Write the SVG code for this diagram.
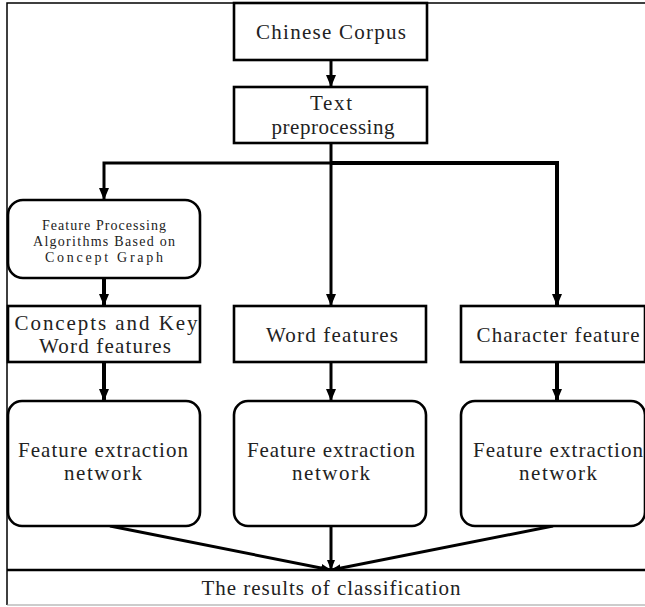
<svg xmlns="http://www.w3.org/2000/svg" width="645" height="607" viewBox="0 0 645 607">
<style>
.box{fill:#fff;stroke:#000;stroke-width:2.6}
.frame{fill:none;stroke:#000;stroke-width:1.5}
.t{font-family:"Liberation Serif","Times New Roman",serif;font-size:21px;fill:#222;text-anchor:middle}
.s{font-family:"Liberation Serif","Times New Roman",serif;font-size:14px;fill:#222;text-anchor:middle}
.ln{fill:none;stroke:#000;stroke-width:3}
.lt{fill:none;stroke:#000;stroke-width:4}
</style>
<defs>
<marker id="ah" viewBox="0 0 12 10" refX="12" refY="5" markerWidth="12" markerHeight="10" markerUnits="userSpaceOnUse" orient="auto">
<path d="M0,0 L12,5 L0,10 Z" fill="#000"/>
</marker>
<marker id="ahs" viewBox="0 0 10 8" refX="10" refY="4" markerWidth="10" markerHeight="8" markerUnits="userSpaceOnUse" orient="auto">
<path d="M0,0 L10,4 L0,8 Z" fill="#000"/>
</marker>
</defs>
<rect width="645" height="607" fill="#fff"/>
<path class="frame" d="M645,3 H7 V605"/>
<g id="connectors">
<line class="ln" x1="331" y1="60" x2="331" y2="87" marker-end="url(#ah)"/>
<line class="ln" x1="331" y1="143" x2="331" y2="163"/>
<path class="ln" d="M331,163 H104 V200" marker-end="url(#ah)"/>
<line class="ln" x1="331" y1="163" x2="331" y2="306" marker-end="url(#ah)"/>
<path class="lt" d="M331,163 H557 V306" marker-end="url(#ah)"/>
<line class="lt" x1="104" y1="278" x2="104" y2="306" marker-end="url(#ah)"/>
<line class="lt" x1="104" y1="362" x2="104" y2="401" marker-end="url(#ah)"/>
<line class="ln" x1="331" y1="362" x2="331" y2="401" marker-end="url(#ah)"/>
<line class="lt" x1="557" y1="362" x2="557" y2="401" marker-end="url(#ah)"/>
<line class="ln" x1="110" y1="526" x2="331" y2="570" marker-end="url(#ahs)"/>
<line class="ln" x1="331" y1="526" x2="331" y2="570" marker-end="url(#ahs)"/>
<line class="ln" x1="553" y1="526" x2="331" y2="570" marker-end="url(#ahs)"/>
</g>
<g id="corpus">
<rect class="box" x="234" y="3" width="193" height="57"/>
<text class="t" x="331" y="39" textLength="150" lengthAdjust="spacing">Chinese Corpus</text>
</g>
<g id="preprocessing">
<rect class="box" x="234" y="87" width="193" height="56"/>
<text class="t" x="331" y="110" textLength="42" lengthAdjust="spacing">Text</text>
<text class="t" x="333" y="134" textLength="123" lengthAdjust="spacing">preprocessing</text>
</g>
<g id="concept-graph">
<rect class="box" x="8" y="200" width="192" height="78" rx="15" ry="15"/>
<text class="s" x="104" y="229.5" textLength="124" lengthAdjust="spacing">Feature Processing</text>
<text class="s" x="104" y="245.5" textLength="142" lengthAdjust="spacing">Algorithms Based on</text>
<text class="s" x="104" y="261.5" textLength="118" lengthAdjust="spacing">Concept Graph</text>
</g>
<g id="concepts">
<rect class="box" x="8" y="306" width="192" height="56"/>
<text class="t" x="106" y="330" textLength="183" lengthAdjust="spacing">Concepts and Key</text>
<text class="t" x="105" y="353" textLength="132" lengthAdjust="spacing">Word features</text>
</g>
<g id="word">
<rect class="box" x="234" y="306" width="192" height="56"/>
<text class="t" x="332" y="342" textLength="132" lengthAdjust="spacing">Word features</text>
</g>
<g id="character">
<rect class="box" x="461" y="306" width="184" height="56"/>
<text class="t" x="558" y="342" textLength="163" lengthAdjust="spacing">Character feature</text>
</g>
<g id="fen1">
<rect class="box" x="8" y="401" width="192" height="125" rx="14" ry="14"/>
<text class="t" x="103" y="457" textLength="170" lengthAdjust="spacing">Feature extraction</text>
<text class="t" x="103" y="480" textLength="78" lengthAdjust="spacing">network</text>
</g>
<g id="fen2">
<rect class="box" x="234" y="401" width="192" height="125" rx="14" ry="14"/>
<text class="t" x="331" y="457" textLength="168" lengthAdjust="spacing">Feature extraction</text>
<text class="t" x="331" y="480" textLength="78" lengthAdjust="spacing">network</text>
</g>
<g id="fen3">
<rect class="box" x="461" y="401" width="184" height="125" rx="14" ry="14"/>
<text class="t" x="558" y="457" textLength="170" lengthAdjust="spacing">Feature extraction</text>
<text class="t" x="558" y="480" textLength="78" lengthAdjust="spacing">network</text>
</g>
<g id="results">
<path fill="#fff" stroke="none" d="M8,570 H645 V605 H8 Z"/>
<line x1="7" y1="570" x2="645" y2="570" stroke="#000" stroke-width="2.4"/>
<line x1="7" y1="605" x2="645" y2="605" stroke="#999" stroke-width="1"/>
<text class="t" x="331" y="595" textLength="259" lengthAdjust="spacing">The results of classification</text>
</g>
</svg>
